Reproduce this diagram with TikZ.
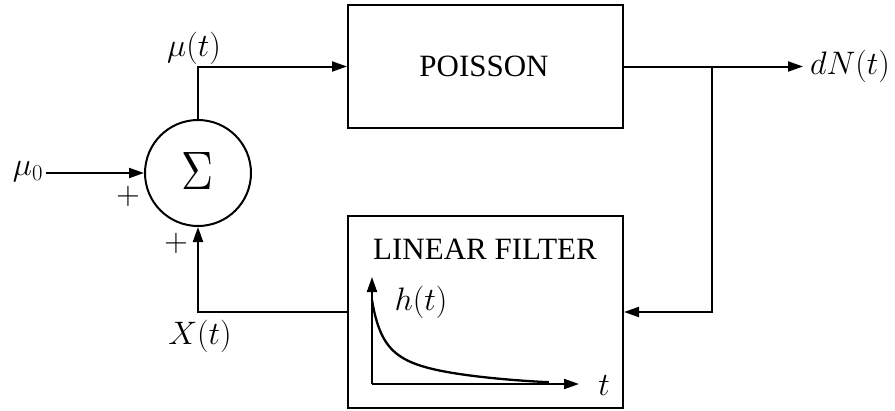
\RequirePackage{fix-cm}
\documentclass[tikz,border=0pt]{standalone}
\usepackage{fontspec}
\setmainfont{Liberation Serif}
\usetikzlibrary{arrows.meta}
\begin{document}
\begin{tikzpicture}[x=1pt,y=-1pt,line width=2pt,
  arr/.style={-{Triangle[length=15pt,width=10pt]}},
  blk/.style={draw,inner sep=0pt,minimum width=275pt},
  txt/.style={font=\fontsize{31}{36}\selectfont},
  mth/.style={inner sep=0pt,font=\fontsize{32.5}{38}\selectfont}]
\useasboundingbox (0,0) rectangle (895,410);

% blocks
\node[blk,minimum height=123pt] (poisson) at (485.5,66.5) {};
\node[txt] (ptext) at (484,66) {POISSON};
\node[blk,minimum height=192pt] (filter) at (485.5,312) {};
\node[txt] (ftext) at (485,249) {LINEAR FILTER};
\node[draw,circle,minimum size=106pt,inner sep=0pt] (sum) at (198,173) {};
\node[inner sep=0pt] (sig) at (198,170.5) {\resizebox{32pt}{37pt}{$\Sigma$}};

% labels
\node[mth,anchor=east] (mu0) at (44,172) {$\mu_0$};
\node[mth] (mut) at (194,48) {$\mu(t)$};
\node[mth] (xt) at (200,336) {$X(t)$};
\node[mth,anchor=west] (dn) at (809,66.5) {$dN(t)$};
\node[mth] (p1) at (128,196) {$+$};
\node[mth] (p2) at (176,243) {$+$};

% connections
\coordinate (out) at (803,66.5);
\coordinate (br) at (712,66.5);
\draw[arr] ([xshift=2pt]sum.west -| mu0.east) -- (sum.west);
\draw[arr] (sum.north) |- (poisson.west);
\draw[arr] (poisson.east) -- (out);
\draw[arr] (br) |- (filter.east);
\draw[arr] (filter.west) -| (sum.south);

% impulse response sketch
\coordinate (o) at (372,384);
\coordinate (ytop) at (372,277);
\coordinate (xend) at (579,384);
\draw[arr] (o) -- (ytop);
\draw[arr] (o) -- (xend);
\draw[line width=2.3pt] plot[domain=0:13.3,samples=90,smooth]
  ({372+\x*\x},{384-84/(1+\x*\x/14)*exp(-pow(\x*\x/165,3))});
\node[mth] (ht) at (421,302) {$h(t)$};
\node[mth] (tl) at (604,385) {$t$};
\end{tikzpicture}
\end{document}
